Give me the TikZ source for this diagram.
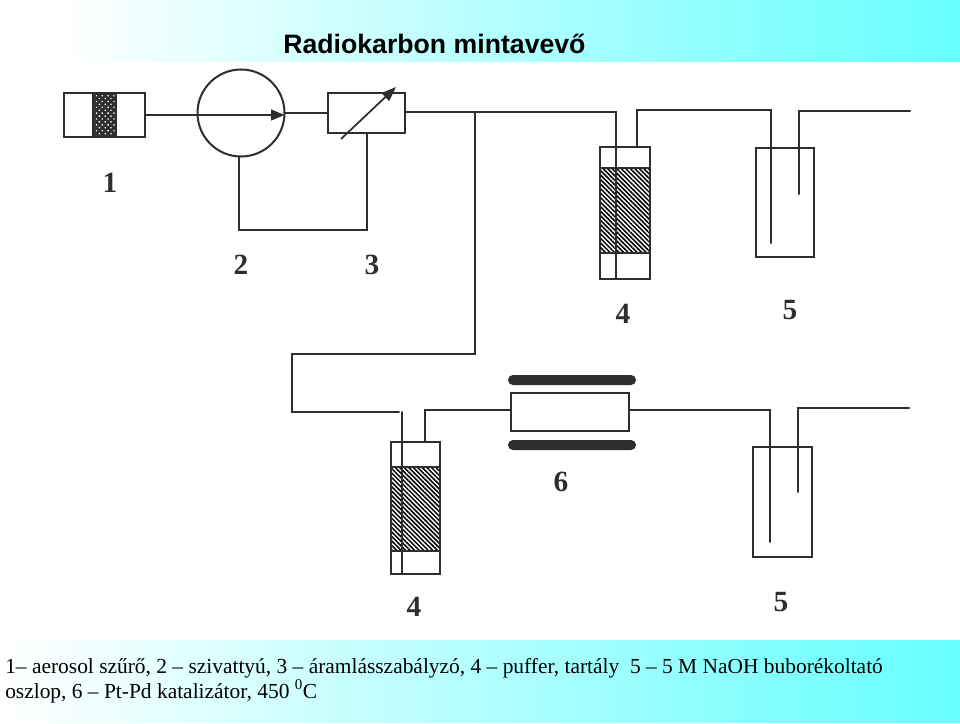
\documentclass[tikz,border=0pt]{standalone}
\usepackage{fontspec}
\setmainfont{Liberation Serif}
\newfontfamily\titlefont{Liberation Sans}
\usetikzlibrary{patterns.meta,arrows.meta}
\definecolor{ink}{HTML}{2E2E2E}
\definecolor{band}{HTML}{66FFFF}
\def\pxu{0.75pt}
\tikzset{
  box/.style={draw=ink,line width=1.5pt,fill=white,rectangle,inner sep=0pt,outer sep=0pt,minimum width=#1*\pxu},
  pipe/.style={draw=ink,line width=1.5pt,line cap=round,line join=miter},
  hatchfill/.style={draw=ink,line width=1.5pt,rectangle,inner sep=0pt,outer sep=0pt,minimum width=#1*\pxu,
     pattern={Lines[angle=-45,distance=2.4pt,line width=1.15pt]},pattern color=black},
  heater/.style={fill=ink,rectangle,rounded corners=3.7pt,inner sep=0pt,outer sep=0pt,minimum width=128*\pxu,minimum height=10*\pxu},
  tag/.style={font=\fontsize{22}{24}\selectfont\bfseries,text=ink,inner sep=0pt,anchor=base},
  legend/.style={font=\fontsize{16.07}{18}\selectfont,inner sep=0pt,anchor=base west},
  title/.style={font=\titlefont\fontsize{20}{22}\selectfont\bfseries,inner sep=0pt,anchor=base west}
}
\begin{document}
\begin{tikzpicture}[x=0.75pt,y=-0.75pt]
\useasboundingbox (0,0) rectangle (960,724);
\shade[left color=white,right color=band,shading angle=90] (60,0) rectangle (960,61.5);
\shade[left color=white,right color=band,shading angle=90] (0,640) rectangle (960,722);
\node[title] (ttl) at (283,54) {Radiokarbon mintavevő};

% unit 1: filter
\node[box=81,minimum height=43*\pxu] (filter) at (104.5,115) {};
\fill[ink] (92,94) rectangle (117,137);
\fill[pattern={Dots[radius=0.72pt,distance=3.1pt,angle=45]},pattern color=white] (94,96) rectangle (115,135);
% unit 2, 3
\node[draw=ink,line width=1.5pt,circle,inner sep=0pt,outer sep=0pt,minimum size=87*\pxu,fill=white] (pump) at (241,113) {};
\node[box=77,minimum height=40*\pxu] (reg) at (366.5,113) {};
\coordinate (argA) at (341,139);
\coordinate (argB) at (396,87);
\draw[draw=ink,line width=1.3pt,-{Triangle[length=11pt,width=8pt]}] (argA) -- (argB);
\draw[pipe,-{Triangle[length=10pt,width=8pt]}] (filter.east) -- (filter.east -| pump.east);
\draw[pipe] (pump.east) -- (reg.west);
\coordinate (retA) at (239,230);
\coordinate (retB) at (367,230);
\draw[pipe] (retA |- pump.south) -- (retA) -- (retB) -- (retB |- reg.south);

% upper buffer 4 and vessel 5
\node[box=50,minimum height=132*\pxu] (bufU) at (625,213) {};
\node[hatchfill=50,minimum height=85*\pxu] (hatU) at (625,210.5) {};
\node[box=58,minimum height=109*\pxu] (vesU) at (785,202.5) {};
\coordinate (jt) at (475,112);
\coordinate (upA) at (616,112);
\coordinate (upB) at (616,279);
\coordinate (upC) at (637,110);
\coordinate (upD) at (771,110);
\coordinate (upE) at (771,243);
\coordinate (upF) at (799,194);
\coordinate (upG) at (799,111);
\coordinate (upH) at (910,111);
\draw[pipe] (reg.east |- jt) -- (jt) -- (upA) -- (upB);
\draw[pipe] (upC |- bufU.north) -- (upC) -- (upD) -- (upE);
\draw[pipe] (upF) -- (upG) -- (upH);

% lower branch
\node[box=49,minimum height=132*\pxu] (bufL) at (415.5,508) {};
\node[hatchfill=49,minimum height=84*\pxu] (hatL) at (415.5,509) {};
\node[box=118,minimum height=38*\pxu] (col) at (570,412) {};
\node[heater] (heatT) at (572,380) {};
\node[heater] (heatB) at (572,445) {};
\node[box=59,minimum height=110*\pxu] (vesL) at (782.5,502) {};
\coordinate (loA) at (475,354);
\coordinate (loB) at (292,354);
\coordinate (loC) at (292,412);
\coordinate (loD) at (399,412);
\coordinate (loE) at (402,412);
\coordinate (loF) at (402,574);
\coordinate (loG) at (425,410);
\coordinate (loH) at (770,410);
\coordinate (loI) at (770,542);
\coordinate (loJ) at (798,492);
\coordinate (loK) at (798,408);
\coordinate (loL) at (909,408);
\draw[pipe] (jt) -- (jt |- loA) -- (loB) -- (loC) -- (loD);
\draw[pipe] (loE) -- (loF);
\draw[pipe] (loG |- bufL.north) -- (loG) -- (loG -| col.west);
\draw[pipe] (col.east |- loH) -- (loH) -- (loI);
\draw[pipe] (loJ) -- (loK) -- (loL);

% labels
\node[tag] (n1) at (110,192) {1};
\node[tag] (n2) at (241,274) {2};
\node[tag] (n3) at (372,274) {3};
\node[tag] (n4a) at (623,323) {4};
\node[tag] (n5a) at (790,319) {5};
\node[tag] (n6) at (561,491) {6};
\node[tag] (n4b) at (414,616) {4};
\node[tag] (n5b) at (781,611) {5};

\node[legend] (leg1) at (5,673) {1– aerosol szűrő, 2 – szivattyú, 3 – áramlásszabályzó, 4 – puffer, tartály\ \ 5 – 5 M NaOH buborékoltató};
\node[legend] (leg2) at (5,698) {oszlop, 6 – Pt-Pd katalizátor, 450 \textsuperscript{0}C};
\end{tikzpicture}
\end{document}
